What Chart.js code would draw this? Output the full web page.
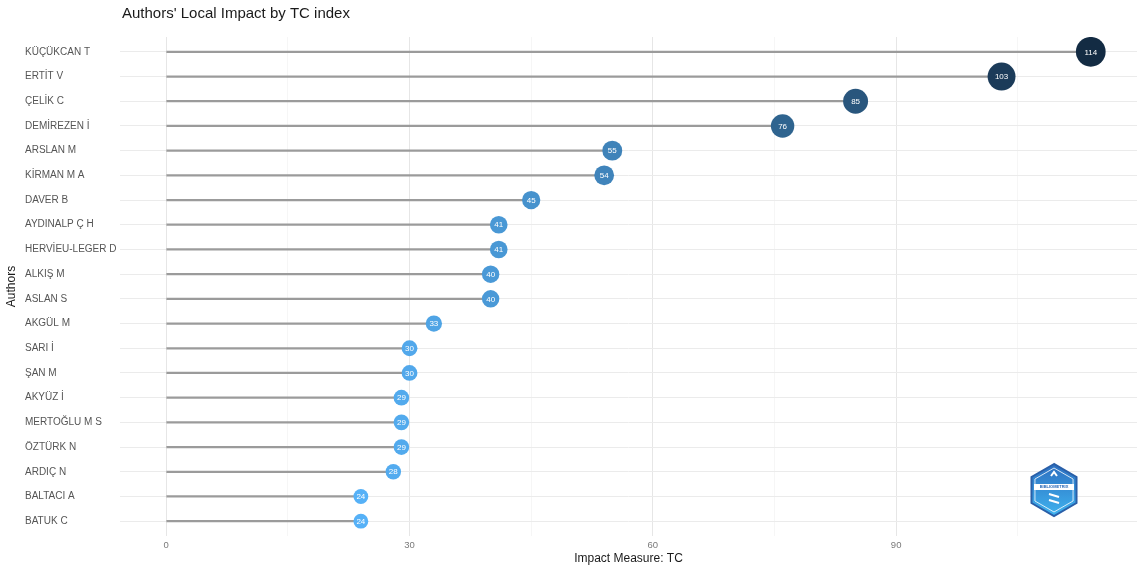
<!DOCTYPE html>
<html>
<head>
<meta charset="utf-8">
<script src="https://cdn.jsdelivr.net/npm/chart.js@4"></script>
<style>
  html, body { margin: 0; padding: 0; background: #ffffff; }
  #wrap { width: 1137px; height: 574px; position: relative; }
</style>
</head>
<body>
<div id="wrap"><canvas id="c" width="1137" height="574"></canvas></div>
<script>
// ---- data ----
const authors = ["KÜÇÜKCAN T", "ERTİT V", "ÇELİK C", "DEMİREZEN İ", "ARSLAN M", "KİRMAN M A", "DAVER B", "AYDINALP Ç H", "HERVİEU-LEGER D", "ALKIŞ M", "ASLAN S", "AKGÜL M", "SARI İ", "ŞAN M", "AKYÜZ İ", "MERTOĞLU M S", "ÖZTÜRK N", "ARDIÇ N", "BALTACI A", "BATUK C"];
const tcValues = [114, 103, 85, 76, 55, 54, 45, 41, 41, 40, 40, 33, 30, 30, 29, 29, 29, 28, 24, 24];
const xTickValues = [0, 15, 30, 45, 60, 75, 90, 105];
const xTickLabels = ["0", "", "30", "", "60", "", "90", ""];

const FONT = "'Liberation Sans', Arial, Helvetica, sans-serif";
const vMin = Math.min(...tcValues), vMax = Math.max(...tcValues);
const lowC = [0x56, 0xB1, 0xF7], highC = [0x13, 0x2B, 0x43];
function colorFor(v) {
  const t = (v - vMin) / (vMax - vMin);
  const c = lowC.map((l, k) => Math.round(l + (highC[k] - l) * t));
  return `rgb(${c[0]},${c[1]},${c[2]})`;
}
function radiusFor(v) {
  return 7.4 + (v - vMin) * 0.083;
}

const overlay = {
  id: 'overlay',
  afterDatasetsDraw(chart) {
    const ctx = chart.ctx;
    const meta = chart.getDatasetMeta(1);
    ctx.save();
    ctx.fillStyle = '#ffffff';
    ctx.font = `8px ${FONT}`;
    ctx.textAlign = 'center';
    ctx.textBaseline = 'middle';
    meta.data.forEach((pt, i) => {
      ctx.fillText(String(tcValues[i]), pt.x, pt.y + 0.5);
    });
    ctx.restore();
  },
  afterDraw(chart) {
    const ctx = chart.ctx;
    const area = chart.chartArea;
    ctx.save();
    // title
    ctx.fillStyle = '#1a1a1a';
    ctx.font = `15px ${FONT}`;
    ctx.textAlign = 'left';
    ctx.textBaseline = 'middle';
    ctx.fillText("Authors' Local Impact by TC index", 122, 14);
    // y axis title
    ctx.translate(12, (area.top + area.bottom) / 2);
    ctx.rotate(-Math.PI / 2);
    ctx.textAlign = 'center';
    ctx.font = `12px ${FONT}`;
    ctx.fillText('Authors', 0, 0);
    ctx.restore();

    // logo hexagon
    ctx.save();
    const cx = 1054, cy = 490, R = 26;
    function hex(r) {
      ctx.beginPath();
      for (let k = 0; k < 6; k++) {
        const a = Math.PI / 2 + k * Math.PI / 3;
        const px = cx + r * Math.cos(a), py = cy - r * Math.sin(a);
        if (k === 0) ctx.moveTo(px, py); else ctx.lineTo(px, py);
      }
      ctx.closePath();
    }
    hex(R);
    const g = ctx.createLinearGradient(cx, cy - R, cx, cy + R);
    g.addColorStop(0, '#2d6fc0');
    g.addColorStop(1, '#3fb3ef');
    ctx.fillStyle = g;
    ctx.fill();
    ctx.strokeStyle = '#2a5fa8';
    ctx.lineWidth = 2;
    ctx.stroke();
    hex(R - 4);
    ctx.strokeStyle = 'rgba(255,255,255,0.8)';
    ctx.lineWidth = 1;
    ctx.stroke();
    ctx.fillStyle = '#ffffff';
    ctx.fillRect(cx - 20, cy - 6, 40, 6);
    ctx.fillStyle = '#2a6ab8';
    ctx.font = `bold 4px ${FONT}`;
    ctx.textAlign = 'center';
    ctx.textBaseline = 'middle';
    ctx.fillText('BIBLIOMETRIX', cx, cy - 3);
    ctx.strokeStyle = '#ffffff';
    ctx.lineWidth = 2;
    ctx.beginPath();
    ctx.moveTo(cx - 5, cy + 4); ctx.lineTo(cx + 5, cy + 7);
    ctx.moveTo(cx - 5, cy + 10); ctx.lineTo(cx + 5, cy + 13);
    ctx.moveTo(cx - 3, cy - 14); ctx.lineTo(cx, cy - 18); ctx.lineTo(cx + 3, cy - 14);
    ctx.stroke();
    ctx.restore();
  }
};

new Chart(document.getElementById('c'), {
  type: 'bar',
  data: {
    datasets: [
      {
        type: 'bar',
        indexAxis: 'y',
        data: tcValues.map((v, i) => ({ x: [0, v], y: i })),
        backgroundColor: '#9b9b9b',
        borderWidth: 0,
        barThickness: 1.6,
        order: 2
      },
      {
        type: 'scatter',
        data: tcValues.map((v, i) => ({ x: v, y: i })),
        pointRadius: tcValues.map(radiusFor),
        pointBackgroundColor: tcValues.map(colorFor),
        pointBorderWidth: 0,
        pointHoverRadius: tcValues.map(radiusFor),
        order: 1
      }
    ]
  },
  options: {
    indexAxis: 'y',
    responsive: false,
    animation: false,
    events: [],
    layout: { autoPadding: false, padding: { left: 25, top: 37, right: 0, bottom: 0 } },
    plugins: { legend: { display: false }, tooltip: { enabled: false }, title: { display: false } },
    scales: {
      x: {
        type: 'linear',
        min: -5.7,
        max: 119.7,
        offset: false,
        afterBuildTicks(scale) { scale.ticks = xTickValues.map(v => ({ value: v })); },
        afterFit(scale) { scale.height = 38; },
        ticks: {
          autoSkip: false,
          maxRotation: 0,
          padding: 4,
          color: '#7a7a7a',
          font: { family: FONT, size: 9.5 },
          callback: (val, idx) => xTickLabels[idx]
        },
        grid: {
          offset: false,
          drawTicks: false,
          color: (c) => (c.tick && c.tick.value % 30 === 0) ? '#e6e6e6' : '#f2f2f2',
          lineWidth: (c) => (c.tick && c.tick.value % 30 === 0) ? 1 : 0.7
        },
        border: { display: false },
        title: {
          display: true,
          text: 'Impact Measure: TC',
          color: '#1a1a1a',
          font: { family: FONT, size: 12 },
          padding: { top: 0, bottom: 8 }
        }
      },
      y: {
        type: 'linear',
        reverse: true,
        offset: false,
        min: -0.6,
        max: 19.6,
        afterBuildTicks(scale) { scale.ticks = authors.map((_, i) => ({ value: i })); },
        afterFit(scale) { scale.width = 95; },
        ticks: {
          autoSkip: false,
          crossAlign: 'far',
          padding: 4,
          color: '#555555',
          font: { family: FONT, size: 10 },
          callback: (val) => authors[val]
        },
        grid: { offset: false, drawTicks: false, color: '#ebebeb', lineWidth: 1 },
        border: { display: false }
      }
    }
  },
  plugins: [overlay]
});
</script>
</body>
</html>
